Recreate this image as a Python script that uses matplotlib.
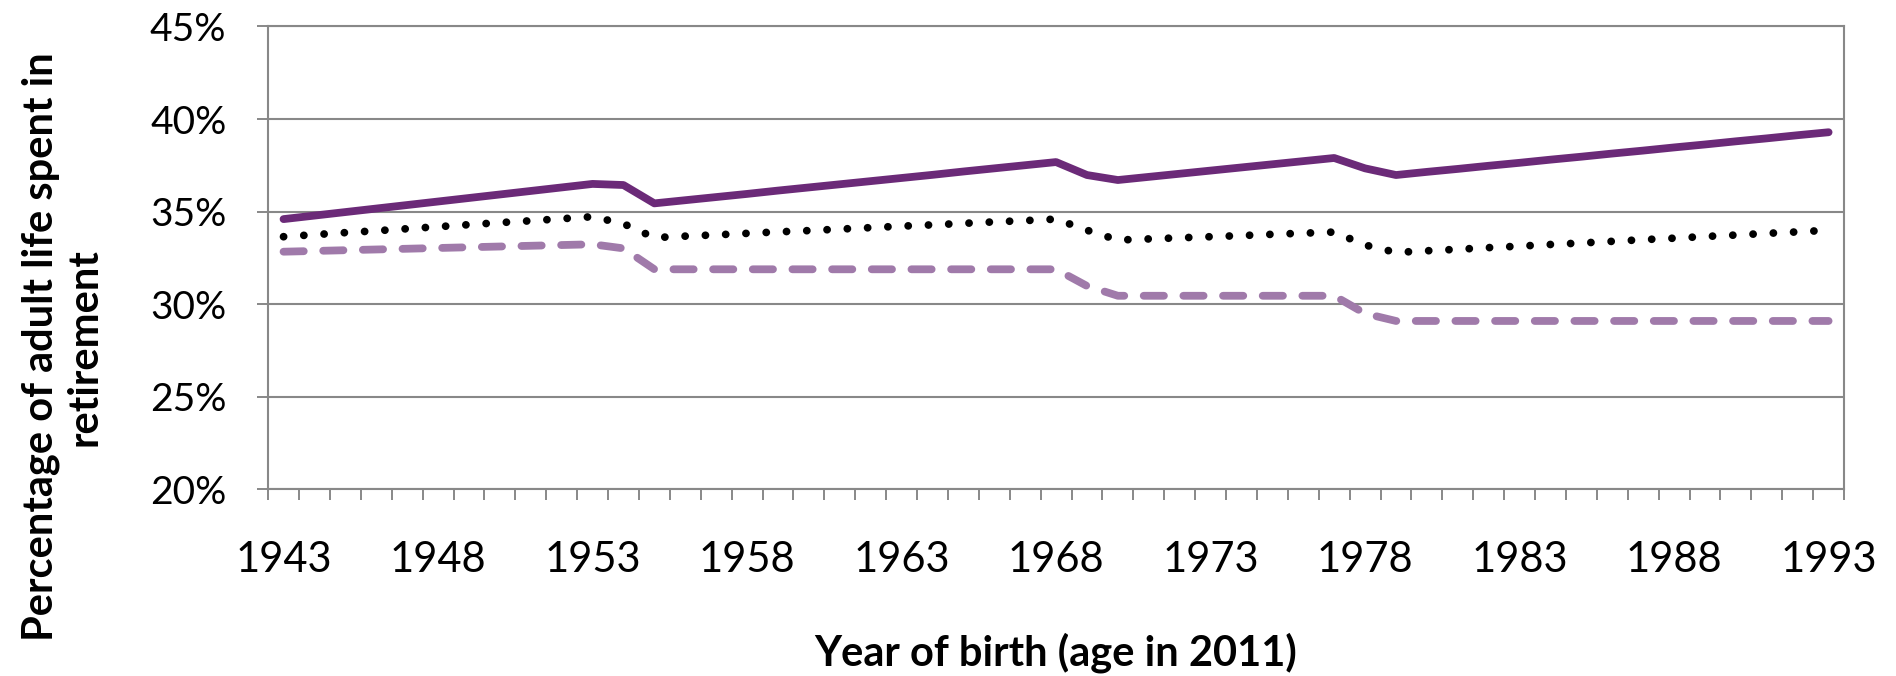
import matplotlib.pyplot as plt
from matplotlib.ticker import MultipleLocator, PercentFormatter

years = list(range(1943, 1994))

# solid dark purple line
ligne_pleine = [34.60, 34.79, 34.98, 35.17, 35.36, 35.55, 35.74, 35.93, 36.12, 36.31, 36.50,
                36.44, 35.45,
                35.62, 35.79, 35.96, 36.14, 36.31, 36.48, 36.65, 36.82, 36.99, 37.17, 37.34, 37.51, 37.68,
                36.98, 36.71,
                36.88, 37.05, 37.22, 37.39, 37.56, 37.73, 37.90,
                37.34, 36.98,
                37.15, 37.31, 37.48, 37.64, 37.81, 37.97, 38.14, 38.30, 38.47, 38.63, 38.80, 38.96, 39.13, 39.29]

# dotted black line
ligne_points = [33.65, 33.76, 33.87, 33.97, 34.08, 34.19, 34.30, 34.41, 34.51, 34.62, 34.73,
                34.35, 33.60,
                33.68, 33.75, 33.83, 33.91, 33.98, 34.06, 34.14, 34.22, 34.29, 34.37, 34.45, 34.52, 34.60,
                34.00, 33.47,
                33.53, 33.59, 33.65, 33.71, 33.78, 33.84, 33.90,
                33.20, 32.80,
                32.89, 32.97, 33.06, 33.14, 33.23, 33.31, 33.40, 33.49, 33.57, 33.66, 33.74, 33.83, 33.91, 34.00]

# dashed light purple line
ligne_tirets = [32.84, 32.88, 32.92, 32.96, 33.00, 33.04, 33.08, 33.12, 33.16, 33.20, 33.24,
                33.02, 31.89,
                31.89, 31.89, 31.89, 31.89, 31.89, 31.89, 31.89, 31.89, 31.89, 31.89, 31.89, 31.89, 31.89,
                30.99, 30.46,
                30.46, 30.46, 30.46, 30.46, 30.46, 30.46, 30.46,
                29.50, 29.10,
                29.10, 29.10, 29.10, 29.10, 29.10, 29.10, 29.10, 29.10, 29.10, 29.10, 29.10, 29.10, 29.10, 29.10]

x_labels = [1943, 1948, 1953, 1958, 1963, 1968, 1973, 1978, 1983, 1988, 1993]

gris = '#888888'
plt.rcParams['font.family'] = ['Lato', 'DejaVu Sans']

fig = plt.figure(figsize=(18.96, 6.76), dpi=100)
ax = fig.add_axes([0.1414, 0.2759, 0.8312, 0.6849])

lw = 5.6
ax.plot(years, ligne_tirets, color='#A07AAA', lw=lw, ls=(0, (2.6, 2.5)),
        dash_capstyle='round', solid_capstyle='round')
ax.plot(years, ligne_points, color='black', lw=lw, ls=(0, (0.01, 2.6)),
        dash_capstyle='round')
ax.plot(years, ligne_pleine, color='#6B2A78', lw=lw, solid_capstyle='round')

ax.set_xlim(1942.5, 1993.5)
ax.set_ylim(20, 45)
ax.yaxis.set_major_locator(MultipleLocator(5))
ax.yaxis.set_major_formatter(PercentFormatter(decimals=0))
ax.set_xticks(x_labels)
ax.set_xticks([y + 0.5 for y in range(1942, 1994)], minor=True)
ax.tick_params(axis='x', which='major', length=0, pad=37)
ax.tick_params(axis='x', which='minor', length=8, width=1.4, color=gris)
ax.tick_params(axis='y', which='major', length=8, width=1.4, color=gris, pad=22, labelsize=28)
for lab in ax.get_xticklabels():
    lab.set_family(['Liberation Sans Narrow', 'Lato', 'DejaVu Sans'])
    lab.set_fontsize(30)
ax.grid(axis='y', color=gris, lw=1.5)
ax.set_axisbelow(True)
for s in ax.spines.values():
    s.set_color(gris)
    s.set_linewidth(1.5)

fig.text(0.033, 0.487, 'Percentage of adult life spent in\nretirement', rotation=90,
         ha='center', va='center', fontsize=30, fontweight='bold', linespacing=1.2)
fig.text(0.5565, 0.034, 'Year of birth (age in 2011)', ha='center', va='center',
         fontsize=30, fontweight='bold')

fig.savefig('out.png', dpi=100)
